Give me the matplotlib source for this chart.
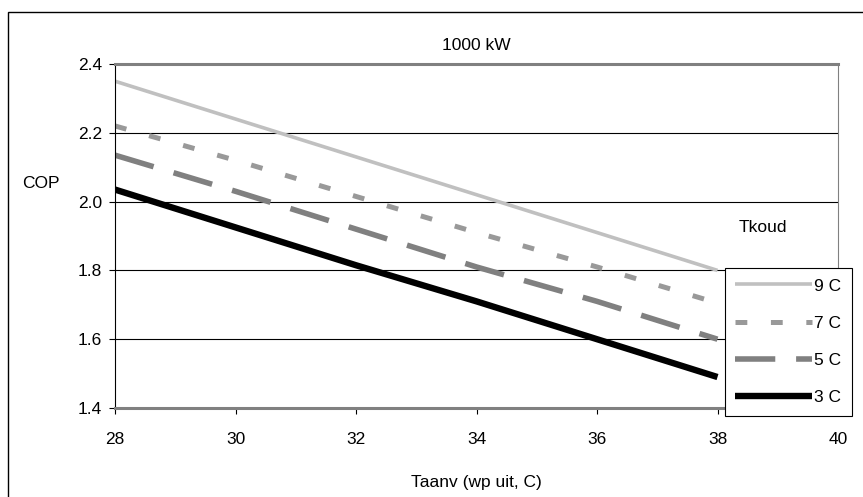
import matplotlib
matplotlib.use("Agg")
import matplotlib.pyplot as plt
from matplotlib.patches import Rectangle

# Values
taanv = [28, 30, 32, 34, 36, 38]
cop_9c = [2.35, 2.24, 2.13, 2.02, 1.91, 1.80]
cop_7c = [2.22, 2.12, 2.015, 1.91, 1.81, 1.705]
cop_5c = [2.135, 2.03, 1.92, 1.81, 1.71, 1.60]
cop_3c = [2.035, 1.925, 1.815, 1.71, 1.60, 1.49]
labels = ["9 C", "7 C", "5 C", "3 C"]
x_ticks = [28, 30, 32, 34, 36, 38, 40]
y_ticks = [1.4, 1.6, 1.8, 2.0, 2.2, 2.4]

plt.rcParams["font.family"] = ["Liberation Sans", "DejaVu Sans"]
plt.rcParams["lines.scale_dashes"] = False

W, H = 863, 497
FS = 12.5
fig = plt.figure(figsize=(W / 100, H / 100), dpi=100)
ax = fig.add_axes([115 / W, 1 - 408 / H, (838 - 115) / W, (408 - 64) / H])

ax.plot(taanv, cop_9c, color="#c0c0c0", lw=2.6, solid_capstyle="butt", label=labels[0])
ax.plot(taanv, cop_7c, color="#999999", lw=3.6, dashes=(8.5, 17), label=labels[1])
ax.plot(taanv, cop_5c, color="#808080", lw=4.0, dashes=(29, 15), label=labels[2])
ax.plot(taanv, cop_3c, color="black", lw=4.6, solid_capstyle="butt", label=labels[3])

ax.set_xlim(28, 40)
ax.set_ylim(1.4, 2.4)
ax.set_xticks(x_ticks)
ax.set_yticks(y_ticks)
ax.set_yticklabels([f"{v:.1f}" for v in y_ticks])
ax.tick_params(labelsize=FS, length=4.5, width=0.8, direction="out", pad=5)
ax.tick_params(axis="x", pad=13)

# gridlines at the inner values only
for v in y_ticks[1:-1]:
    ax.axhline(v, color="black", lw=0.8, zorder=0.5)

ax.spines["top"].set_color("#808080")
ax.spines["top"].set_linewidth(2.2)
ax.spines["bottom"].set_color("#808080")
ax.spines["bottom"].set_linewidth(2.2)
ax.spines["right"].set_color("#808080")
ax.spines["right"].set_linewidth(0.8)
ax.spines["left"].set_linewidth(0.8)

leg = ax.legend(loc="upper left", bbox_to_anchor=(725 / W, 1 - 268 / H),
                bbox_transform=fig.transFigure, frameon=True, fancybox=False,
                edgecolor="black", framealpha=1, fontsize=FS, handlelength=4.4,
                handletextpad=0.15, labelspacing=1.27, borderpad=0.6,
                borderaxespad=0)
leg.get_frame().set_linewidth(0.8)

fig.text(476 / W, 1 - 46 / H, "1000 kW", ha="center", va="center", fontsize=FS)
fig.text(41 / W, 1 - 183 / H, "COP", ha="center", va="center", fontsize=FS)
fig.text(763 / W, 1 - 228 / H, "Tkoud", ha="center", va="center", fontsize=FS)
fig.text(476 / W, 1 - 482 / H, "Taanv (wp uit, C)", ha="center", va="center", fontsize=FS)

fig.patches.append(Rectangle((8 / W, -0.1), 1.2, 1 - 12 / H + 0.1,
                             transform=fig.transFigure, fill=False,
                             edgecolor="black", lw=1.0))

fig.savefig("out.png", dpi=100)
